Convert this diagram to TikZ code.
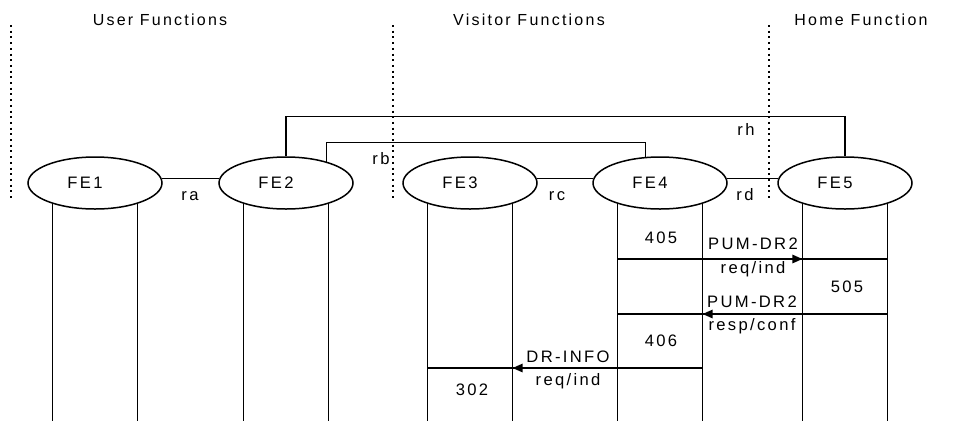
\documentclass[tikz,border=0pt]{standalone}
\usepackage{fontspec}
\setmainfont{Liberation Sans}[LetterSpace=14]
\usetikzlibrary{shapes.geometric,arrows.meta}

\begin{document}
\begin{tikzpicture}
        [x=1pt, y=-1pt, line width=1.5pt, font=\fontsize{16.6}{19}\selectfont,
        fe/.style={ellipse,draw,minimum width=134pt,minimum height=52pt,inner sep=0pt},
        lbl/.style={anchor=base,inner sep=0pt},
        border/.style={line width=2pt,dash pattern=on 2pt off 3.7pt},
        msg/.style={-{Triangle[length=10pt,width=8.5pt]}}]
        \useasboundingbox (0,0) rectangle (955,421);
        \coordinate (bot) at (0,421);
        % domain borders and titles
        \draw[border] (11,25) -- (11,200);
        \draw[border] (393,25) -- (393,200);
        \draw[border] (769,25) -- (769,200);
        \node (user) at (160,25) [lbl, font=\fontsize{16}{19}\selectfont] {User Functions};
        \node (visitor) at (529,25) [lbl, font=\fontsize{16}{19}\selectfont] {Visitor Functions};
        \node (home) at (861,25) [lbl, font=\fontsize{16}{19}\selectfont] {Home Function};
        % functional entities
        \node (FE1) at (95,183) [fe, label={[xshift=-10pt]center:FE1}] {};
        \node (FE2) at (286,183) [fe, label={[xshift=-10pt]center:FE2}] {};
        \node (FE3) at (470,183) [fe, label={[xshift=-10pt]center:FE3}] {};
        \node (FE4) at (660,183) [fe, label={[xshift=-10pt]center:FE4}] {};
        \node (FE5) at (845,183) [fe, label={[xshift=-10pt]center:FE5}] {};
        \foreach \n in {1,...,5}
          \draw (FE\n.206.7) -- (FE\n.206.7 |- bot) (FE\n.-26.7) -- (FE\n.-26.7 |- bot);
        % relationships
        \draw (FE1.4) -- (FE2.176);
        \draw (FE3.4) -- (FE4.176);
        \draw (FE4.4) -- (FE5.176);
        \draw (FE2.north) -- ++(0,-40) -| (FE5.north);
        \draw (FE2.28) -- ++(0,-19) -| (FE4.119);
        \node (ra) at (190,200) [lbl] {ra};
        \node (rb) at (381,164) [lbl] {rb};
        \node (rc) at (557,200) [lbl] {rc};
        \node (rd) at (745,200) [lbl] {rd};
        \node (rh) at (746,135) [lbl] {rh};
        % information flows
        \coordinate (m1) at (0,259);
        \coordinate (m2) at (0,314);
        \coordinate (m3) at (0,368);
        \draw (FE4.206.7 |- m1) -- (FE5.-26.7 |- m1);
        \draw[msg] (FE4.-26.7 |- m1) -- (FE5.206.7 |- m1);
        \draw (FE5.-26.7 |- m2) -- (FE4.206.7 |- m2);
        \draw[msg] (FE5.206.7 |- m2) -- (FE4.-26.7 |- m2);
        \draw (FE4.-26.7 |- m3) -- (FE3.206.7 |- m3);
        \draw[msg] (FE4.206.7 |- m3) -- (FE3.-26.7 |- m3);
        \node (405) at (661,243) [lbl] {405};
        \node (505) at (847,292) [lbl] {505};
        \node (406) at (661,346) [lbl] {406};
        \node (302) at (472,395) [lbl] {302};
        \node (dr2req) at (753,249) [lbl] {PUM-DR2};
        \node (dr2ind) at (753,273) [lbl] {req/ind};
        \node (dr2resp) at (752,307) [lbl] {PUM-DR2};
        \node (dr2conf) at (752,330) [lbl] {resp/conf};
        \node (inforeq) at (568,362) [lbl] {DR-INFO};
        \node (infoind) at (568,385) [lbl] {req/ind};
      \end{tikzpicture}
\end{document}
